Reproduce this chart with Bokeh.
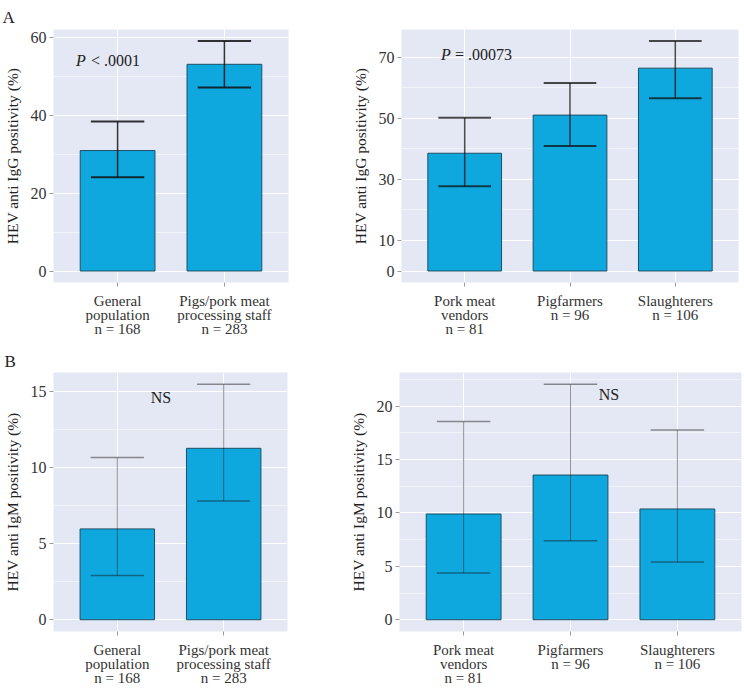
from bokeh.plotting import figure
from bokeh.models import Range1d, FixedTicker, Label, ColumnDataSource
from bokeh.layouts import column, row
from bokeh.embed import file_html
from bokeh.resources import INLINE

FONT = "Liberation Serif"

# ---- data ----
cats_general = ["General\npopulation\nn = 168", "Pigs/pork meat\nprocessing staff\nn = 283"]
cats_groups = ["Pork meat\nvendors\nn = 81", "Pigfarmers\nn = 96", "Slaughterers\nn = 106"]

# A: IgG
igg_left_val = [31.0, 53.2]
igg_left_lo = [24.1, 47.2]
igg_left_hi = [38.5, 59.2]
igg_left_ticks = [0, 20, 40, 60]
igg_left_minor = [10, 30, 50]

igg_right_val = [38.6, 51.1, 66.5]
igg_right_lo = [27.8, 41.0, 56.6]
igg_right_hi = [50.2, 61.6, 75.4]
igg_right_ticks = [0, 10, 30, 50, 70]
igg_right_minor = [20, 40, 60]

# B: IgM
igm_left_val = [5.97, 11.27]
igm_left_lo = [2.9, 7.8]
igm_left_hi = [10.67, 15.48]
igm_left_ticks = [0, 5, 10, 15]
igm_left_minor = [2.5, 7.5, 12.5]

igm_right_val = [9.9, 13.55, 10.37]
igm_right_lo = [4.37, 7.4, 5.4]
igm_right_hi = [18.56, 22.05, 17.77]
igm_right_ticks = [0, 5, 10, 15, 20]
igm_right_minor = [2.5, 7.5, 12.5, 17.5, 22.5]

BG = "#E4E8F4"
BAR = "#0EA8DF"
BAR_LINE = "#1F4E66"


def panel(labels, val, lo, hi, ticks, minor, ylabel, width, height,
          bl, br, bt, bb, err_alpha, err_w, cap_w):
    n = len(labels)
    xs = list(range(1, n + 1))
    ymax = max(hi)
    pad = 0.05 * ymax
    p = figure(width=width, height=height, output_backend="svg", toolbar_location=None,
               x_range=Range1d(0.4, n + 0.6), y_range=Range1d(-pad, ymax + pad),
               min_border_left=bl, min_border_right=br, min_border_top=bt, min_border_bottom=bb)
    p.background_fill_color = BG
    p.border_fill_color = "white"
    p.outline_line_color = None

    src = ColumnDataSource(dict(x=xs, top=val, lo=lo, hi=hi,
                                cl=[x - 0.25 for x in xs], cr=[x + 0.25 for x in xs]))
    p.vbar(x="x", top="top", bottom=0, width=0.7, source=src,
           fill_color=BAR, line_color=BAR_LINE, line_width=1)
    p.segment(x0="x", y0="lo", x1="x", y1="hi", source=src,
              line_color="#111111", line_alpha=err_alpha, line_width=err_w)
    for y in ("lo", "hi"):
        p.segment(x0="cl", y0=y, x1="cr", y1=y, source=src,
                  line_color="#111111", line_alpha=err_alpha, line_width=cap_w)

    # axes
    p.xaxis.ticker = FixedTicker(ticks=xs)
    p.xaxis.major_label_overrides = {x: lab for x, lab in zip(xs, labels)}
    p.yaxis.ticker = FixedTicker(ticks=ticks)
    for ax in (p.xaxis[0], p.yaxis[0]):
        ax.axis_line_color = None
        ax.major_tick_in = 0
        ax.major_tick_out = 4
        ax.major_tick_line_color = "#9a9a9a"
        ax.minor_tick_line_color = None
        ax.major_label_text_font = FONT
        ax.major_label_text_color = "#333333"
    p.xaxis.major_label_text_font_size = "15px"
    p.xaxis.major_label_text_line_height = 0.88
    p.xaxis.major_label_standoff = 6
    p.yaxis.major_label_text_font_size = "16px"
    p.yaxis.major_label_standoff = 3
    p.yaxis.axis_label = ylabel
    p.yaxis.axis_label_text_font = FONT
    p.yaxis.axis_label_text_font_style = "normal"
    p.yaxis.axis_label_text_font_size = "15.5px"
    p.yaxis.axis_label_text_color = "#222222"
    p.yaxis.axis_label_standoff = 7

    # grid
    p.xgrid.ticker = FixedTicker(ticks=xs)
    p.xgrid.grid_line_color = "white"
    p.xgrid.grid_line_width = 1
    p.ygrid.ticker = FixedTicker(ticks=ticks, minor_ticks=minor)
    p.ygrid.grid_line_color = "white"
    p.ygrid.grid_line_width = 1.2
    p.ygrid.minor_grid_line_color = "white"
    p.ygrid.minor_grid_line_alpha = 0.6
    p.ygrid.minor_grid_line_width = 0.8
    return p


def add_text(p, x, y, text, style="normal", size="16px", x_offset=0, align="left"):
    p.add_layout(Label(x=x, y=y, text=text, text_font=FONT, text_font_style=style,
                       text_font_size=size, text_color="#222222", x_offset=x_offset,
                       text_align=align, text_baseline="alphabetic"))


def panel_letter(p, letter, offset, standoff):
    p.title.text = letter
    p.title.align = "left"
    p.title.offset = offset
    p.title.standoff = standoff
    p.title.text_font = FONT
    p.title.text_font_style = "normal"
    p.title.text_font_size = "17px"
    p.title.text_color = "#222222"


# A left
pa1 = panel(cats_general, igg_left_val, igg_left_lo, igg_left_hi, igg_left_ticks, igg_left_minor,
            "HEV anti IgG positivity (%)", 340, 339, 52, 52, 26, 57, 0.85, 1.5, 2)
add_text(pa1, 0.61, 54.1, "P", style="italic")
add_text(pa1, 0.61, 54.1, "< .0001", x_offset=15)
panel_letter(pa1, "A", -51, 5)

# A right
pa2 = panel(cats_groups, igg_right_val, igg_right_lo, igg_right_hi, igg_right_ticks, igg_right_minor,
            "HEV anti IgG positivity (%)", 403, 339, 61, 5, 29, 57, 0.75, 1.5, 2)
add_text(pa2, 0.776, 71.1, "P", style="italic")
add_text(pa2, 0.776, 71.1, "= .00073", x_offset=14)

# B left
pb1 = panel(cats_general, igm_left_val, igm_left_lo, igm_left_hi, igm_left_ticks, igm_left_minor,
            "HEV anti IgM positivity (%)", 340, 349, 52, 53, 33, 57, 0.45, 1, 1.5)
add_text(pb1, 1.41, 14.6, "NS", align="center")
panel_letter(pb1, "B", -49, 4)

# B right
pb2 = panel(cats_groups, igm_right_val, igm_right_lo, igm_right_hi, igm_right_ticks, igm_right_minor,
            "HEV anti IgM positivity (%)", 403, 349, 59, 2, 33, 57, 0.45, 1, 1.5)
add_text(pb2, 2.36, 21.1, "NS", align="center")

layout = column(row(pa1, pa2), row(pb1, pb2))
open("out.html", "w").write(file_html(layout, INLINE))
